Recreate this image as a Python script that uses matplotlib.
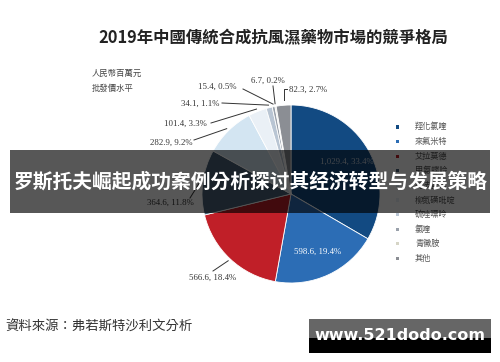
import matplotlib
matplotlib.use("Agg")
import matplotlib.pyplot as plt
import numpy as np
from matplotlib.patches import Rectangle

plt.rcParams['font.family'] = ['Noto Sans CJK TC', 'DejaVu Sans']

# ---- data ----
drugs = ["羥化氯喹", "來氟米特", "艾拉莫德", "甲氨蝶呤", "托法替布",
         "柳氮磺吡啶", "硫唑嘌呤", "氯喹", "青黴胺", "其他"]
values = [1029.4, 598.6, 566.6, 364.6, 282.9, 101.4, 34.1, 15.4, 6.7, 82.3]
colors = ["#124a82", "#2c6db5", "#c01f28", "#4a6378", "#d3e5f2",
          "#eaf0f6", "#b9c5d3", "#9aa1ab", "#d6d5c6", "#8b8e94"]
title = "2019年中國傳統合成抗風濕藥物市場的競爭格局"
unit_lines = ["人民幣百萬元", "批發價水平"]
source = "資料來源：弗若斯特沙利文分析"
banner = "罗斯托夫崛起成功案例分析探讨其经济转型与发展策略"
watermark = "www.521dodo.com"

W, H = 500, 362
fig = plt.figure(figsize=(W / 100, H / 100), dpi=100)
fig.patch.set_facecolor("white")

# pie axes
cx, cy, R = 291, 194, 89
axp = fig.add_axes([(cx - R) / W, (H - cy - R) / H, 2 * R / W, 2 * R / H])
wedges, _ = axp.pie(values, colors=colors, startangle=90, counterclock=False,
                    wedgeprops=dict(edgecolor="white", linewidth=0.6))
axp.set_xlim(-1, 1)
axp.set_ylim(-1, 1)
axp.set_aspect("equal")
axp.axis("off")

# overlay axes in pixel coords
ax = fig.add_axes([0, 0, 1, 1], zorder=5)
ax.set_xlim(0, W)
ax.set_ylim(H, 0)
ax.axis("off")
ax.patch.set_alpha(0)

total = sum(values)
labels = [f"{v:,.1f}, {v / total * 100:.1f}%" for v in values]
mids = [np.deg2rad((w.theta1 + w.theta2) / 2) for w in wedges]

def rim(i, r=1.02):
    return cx + R * r * np.cos(mids[i]), cy - R * r * np.sin(mids[i])

serif = ['Liberation Serif', 'DejaVu Serif']
fs = 6.3
# inside labels
for i, col in [(0, "#c8d0dc"), (1, "white")]:
    x, y = cx + R * 0.72 * np.cos(mids[i]), cy - R * 0.72 * np.sin(mids[i])
    ax.text(x, y, labels[i], ha="center", va="center", fontsize=fs, color=col, family=serif)

# outside labels: (index, text anchor x, y, ha, line start)
outs = [
    (2, 213, 278, "center", (213, 271)),
    (3, 170, 203, "center", (190, 198)),
    (4, 192, 143, "right", (194, 140)),
    (5, 207, 124, "right", (211, 123)),
    (6, 219, 104, "right", (222, 103)),
    (7, 237, 87, "right", (243, 89)),
    (8, 268, 81, "center", (273, 86)),
]
for i, tx, ty, ha, (lx, ly) in outs:
    ax.text(tx, ty, labels[i], ha=ha, va="center", fontsize=fs, color="#333333", family=serif)
    ex, ey = rim(i, 1.03)
    ax.plot([lx, ex], [ly, ey], color="#333333", lw=0.7)
# 其他 bracket label
ex, ey = rim(9, 1.03)
ax.plot([ex + 0.5, ex + 0.5, ex + 3.5], [ey - 3, 89, 89], color="#333333", lw=0.7)
ax.text(289, 90, labels[9], ha="left", va="center", fontsize=fs, color="#333333", family=serif)

# title
ax.text(273, 38, title, ha="center", va="center", fontsize=11.8, fontweight="bold", color="#222222")
# unit
for k, t in enumerate(unit_lines):
    ax.text(92, 73 + 15 * k, t, ha="left", va="center", fontsize=6.0, color="#444444")

# legend
ly0, dly = 127, 14.6
for k, (d, c) in enumerate(zip(drugs, colors)):
    y = ly0 + dly * k
    ax.add_patch(Rectangle((396, y - 1.6), 3.2, 3.2, color=c, lw=0))
    ax.text(415, y, d, ha="left", va="center", fontsize=5.9, color="#555555")

# source
ax.text(5, 327, source, ha="left", va="center", fontsize=9.6, color="#333333")

# banner overlay
ax.add_patch(Rectangle((10, 150), 480, 63, color="black", alpha=0.66, lw=0, zorder=10))
ax.text(251, 182, banner, ha="center", va="center", fontsize=14.2, fontweight="bold",
        color="white", zorder=11)

# watermark
ax.add_patch(Rectangle((309, 319), 182, 19, color="#666666", lw=0, zorder=10))
ax.add_patch(Rectangle((309, 338), 182, 15, color="black", lw=0, zorder=10))
ax.text(400, 336, watermark, ha="center", va="center", fontsize=11.5, fontweight="bold",
        color="white", family=["DejaVu Sans"], zorder=11)

fig.savefig("out.png", dpi=100)
